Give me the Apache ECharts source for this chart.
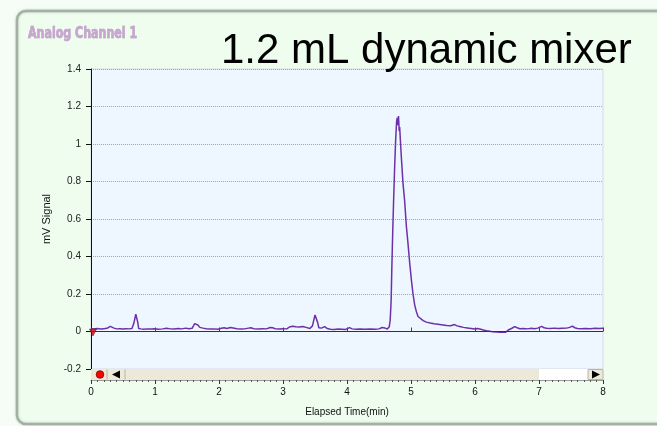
<!DOCTYPE html>
<html>
<head>
<meta charset="utf-8">
<title>Analog Channel 1</title>
<script src="https://cdn.jsdelivr.net/npm/echarts@6/dist/echarts.min.js"></script>
<style>
  html, body { margin: 0; padding: 0; background: #f6fdf6; }
  #chart { width: 657px; height: 426px; }
</style>
</head>
<body>
<div id="chart"></div>
<script>
// Detector trace: elapsed time (min) and signal (mV)
const elapsedMin = [
  0.00, 0.05, 0.10, 0.15, 0.20, 0.25, 0.30, 0.33, 0.36, 0.40,
  0.45, 0.50, 0.55, 0.60, 0.64, 0.67, 0.70, 0.715, 0.73, 0.745,
  0.78, 0.82, 0.88, 0.95, 1.00, 1.05, 1.12, 1.18, 1.24, 1.30,
  1.36, 1.42, 1.48, 1.53, 1.58, 1.62, 1.645, 1.67, 1.70, 1.75,
  1.80, 1.86, 1.92, 1.98, 2.04, 2.08, 2.12, 2.18, 2.22, 2.28,
  2.34, 2.40, 2.46, 2.50, 2.55, 2.62, 2.68, 2.74, 2.80, 2.84,
  2.88, 2.94, 3.00, 3.06, 3.10, 3.15, 3.20, 3.26, 3.31, 3.36,
  3.42, 3.46, 3.50, 3.52, 3.54, 3.56, 3.60, 3.65, 3.69, 3.74,
  3.80, 3.86, 3.92, 3.98, 4.04, 4.08, 4.14, 4.20, 4.28, 4.36,
  4.44, 4.50, 4.55, 4.59, 4.63, 4.66, 4.675, 4.69, 4.70, 4.714,
  4.73, 4.745, 4.76, 4.775, 4.785, 4.795, 4.805, 4.815, 4.823, 4.834,
  4.85, 4.875, 4.90, 4.928, 4.953, 4.98, 5.006, 5.03, 5.058, 5.084,
  5.11, 5.136, 5.19, 5.24, 5.30, 5.36, 5.42, 5.50, 5.56, 5.62,
  5.68, 5.72, 5.76, 5.82, 5.88, 5.94, 6.00, 6.04, 6.06, 6.09,
  6.13, 6.18, 6.23, 6.28, 6.34, 6.39, 6.44, 6.48, 6.52, 6.57,
  6.62, 6.66, 6.70, 6.76, 6.82, 6.88, 6.93, 6.98, 7.04, 7.08,
  7.12, 7.18, 7.24, 7.30, 7.36, 7.43, 7.48, 7.52, 7.56, 7.60,
  7.66, 7.72, 7.80, 7.88, 7.94, 8.00
];
const signalMv = [
  0.015, 0.014, 0.016, 0.013, 0.015, 0.017, 0.027, 0.028, 0.018, 0.014,
  0.015, 0.013, 0.015, 0.014, 0.016, 0.045, 0.092, 0.097, 0.050, 0.016,
  0.014, 0.012, 0.014, 0.013, 0.015, 0.012, 0.014, 0.017, 0.014, 0.013,
  0.016, 0.014, 0.018, 0.015, 0.017, 0.042, 0.050, 0.035, 0.022, 0.018,
  0.015, 0.013, 0.014, 0.012, 0.017, 0.020, 0.016, 0.021, 0.019, 0.015,
  0.013, 0.014, 0.018, 0.020, 0.014, 0.013, 0.015, 0.014, 0.021, 0.020,
  0.014, 0.013, 0.015, 0.014, 0.024, 0.028, 0.025, 0.024, 0.027, 0.022,
  0.016, 0.030, 0.088, 0.095, 0.050, 0.020, 0.018, 0.026, 0.016, 0.012,
  0.011, 0.013, 0.012, 0.011, 0.021, 0.014, 0.012, 0.013, 0.012, 0.013,
  0.012, 0.014, 0.021, 0.019, 0.013, 0.025, 0.060, 0.168, 0.330, 0.525,
  0.720, 0.880, 1.020, 1.120, 1.140, 1.100, 1.149, 1.070, 1.090, 1.020,
  0.925, 0.790, 0.700, 0.560, 0.470, 0.364, 0.275, 0.204, 0.141, 0.106,
  0.080, 0.070, 0.058, 0.050, 0.045, 0.041, 0.039, 0.035, 0.032, 0.031,
  0.037, 0.030, 0.027, 0.022, 0.019, 0.016, 0.013, 0.016, 0.021, 0.012,
  0.008, 0.004, 0.001, -0.002, -0.003, -0.004, -0.003, -0.004, 0.008, 0.016,
  0.026, 0.020, 0.015, 0.016, 0.014, 0.017, 0.015, 0.018, 0.027, 0.020,
  0.017, 0.016, 0.018, 0.016, 0.017, 0.018, 0.022, 0.029, 0.020, 0.016,
  0.015, 0.016, 0.015, 0.017, 0.016, 0.017
];
// Axis ranges and tick spacing
const timeRange = [0, 8];
const timeStep = 1;
const signalRange = [-0.2, 1.4];
const signalStep = 0.2;
// Shaded span of the time scroller (min)
const scrollVisible = [0, 7];
// Injection marker
const injectionPoint = [[0, 0]];

const trace = elapsedMin.map((t, i) => [t, signalMv[i]]);

const FONT = '"Liberation Sans", Arial, sans-serif';
const chart = echarts.init(document.getElementById('chart'), null, { renderer: 'canvas' });

chart.setOption({
  backgroundColor: '#f6fdf6',
  animation: false,
  title: [
    {
      text: '1.2 mL dynamic mixer', left: 216, top: 25,
      textStyle: { fontFamily: FONT, fontWeight: 'normal', fontSize: 42, color: '#000' }
    }
  ],
  graphic: [
    {
      type: 'rect', z: -100, silent: true,
      shape: { x: 17, y: 11, width: 660, height: 413, r: 9 },
      style: { fill: '#eefdee', stroke: '#a3b0a3', lineWidth: 2.5,
               shadowBlur: 3, shadowColor: 'rgba(0,0,0,0.18)' }
    },
    // channel caption, condensed
    {
      type: 'text', z: 10, silent: true, x: 28, y: 34.5, scaleX: 0.82,
      style: {
        text: 'Analog Channel 1',
        font: 'bold 15px "DejaVu Sans Condensed", "DejaVu Sans", sans-serif',
        fill: '#caa4d2', stroke: '#9c86a6', lineWidth: 0.5,
        verticalAlign: 'middle'
      }
    },
    // scroller buttons
    { type: 'line', z: 100, silent: true, shape: { x1: 107, y1: 369.5, x2: 107, y2: 379.5 }, style: { stroke: '#b9b5a5', lineWidth: 1 } },
    { type: 'line', z: 100, silent: true, shape: { x1: 125, y1: 369.5, x2: 125, y2: 379.5 }, style: { stroke: '#b9b5a5', lineWidth: 1 } },
    { type: 'circle', z: 101, silent: true, shape: { cx: 100, cy: 374.5, r: 3.8 }, style: { fill: '#ff0000', stroke: '#7a0000', lineWidth: 0.8 } },
    { type: 'polygon', z: 101, silent: true, shape: { points: [[112, 374.5], [120, 370.5], [120, 378.5]] }, style: { fill: '#000' } },
    { type: 'rect', z: 100, silent: true, shape: { x: 588, y: 369.5, width: 15, height: 10 }, style: { fill: '#ece9d8', stroke: '#b9b5a5', lineWidth: 1 } },
    { type: 'polygon', z: 101, silent: true, shape: { points: [[600, 374.5], [592, 370.5], [592, 378.5]] }, style: { fill: '#000' } }
  ],
  grid: [
    { left: 91, right: 54, top: 69, height: 300, show: true,
      backgroundColor: '#eef6ff', borderColor: '#d4dae4', borderWidth: 1 },
    { left: 91, right: 54, top: 369, height: 11, show: false }
  ],
  xAxis: [
    {
      gridIndex: 0, type: 'value', min: timeRange[0], max: timeRange[1], interval: timeStep,
      axisLine: { show: false },
      axisTick: { show: true, inside: true, length: 4, lineStyle: { color: '#444' } },
      axisLabel: { show: false },
      splitLine: { show: false }
    },
    {
      gridIndex: 1, type: 'value', min: timeRange[0], max: timeRange[1], interval: timeStep,
      position: 'bottom',
      axisLine: { show: true, onZero: false, lineStyle: { color: '#9a9a9a' } },
      axisTick: { show: true, length: 4, lineStyle: { color: '#333' } },
      minorTick: { show: true, splitNumber: 10, length: 2, lineStyle: { color: '#555' } },
      axisLabel: { fontSize: 10, color: '#111', margin: 7, fontFamily: FONT },
      splitLine: { show: false },
      name: 'Elapsed Time(min)', nameLocation: 'middle', nameGap: 27,
      nameTextStyle: { fontSize: 10, color: '#111', fontFamily: FONT }
    }
  ],
  yAxis: [
    {
      gridIndex: 0, type: 'value', min: signalRange[0], max: signalRange[1], interval: signalStep,
      axisLine: { show: true, onZero: false, lineStyle: { color: '#111' } },
      axisTick: { show: true, length: 5, lineStyle: { color: '#111' } },
      axisLabel: { fontSize: 10, color: '#222', margin: 10, fontFamily: FONT },
      splitLine: { show: true, lineStyle: { type: 'dotted', color: '#a6a6a6' } },
      name: 'mV Signal', nameLocation: 'middle', nameGap: 35, nameRotate: 90,
      nameTextStyle: { fontSize: 11, color: '#111', fontFamily: FONT }
    },
    {
      gridIndex: 1, type: 'value', min: 0, max: 1,
      axisLine: { show: true, onZero: false, lineStyle: { color: '#111' } },
      axisTick: { show: false }, axisLabel: { show: false }, splitLine: { show: false }
    }
  ],
  series: [
    {
      name: 'Analog Channel 1', type: 'line', xAxisIndex: 0, yAxisIndex: 0,
      data: trace, symbol: 'none', showSymbol: false, z: 3,
      lineStyle: { color: '#6c30a8', width: 1.5 },
      markLine: {
        silent: true, symbol: ['none', 'none'], label: { show: false },
        lineStyle: { color: '#333', width: 1, type: 'solid' },
        data: [{ yAxis: 0 }]
      }
    },
    {
      name: 'Injection', type: 'scatter', xAxisIndex: 0, yAxisIndex: 0,
      data: injectionPoint, symbol: 'triangle', symbolRotate: 180,
      symbolSize: 7, symbolOffset: [2, 1], z: 5,
      itemStyle: { color: '#e00000', borderColor: '#5a0000', borderWidth: 0.6 }
    },
    {
      name: 'Scroller', type: 'line', xAxisIndex: 1, yAxisIndex: 1,
      data: [[scrollVisible[0], 0.5]], symbol: 'none', showSymbol: false,
      lineStyle: { opacity: 0 },
      markArea: {
        silent: true,
        data: [
          [{ xAxis: scrollVisible[0], itemStyle: { color: '#ece9d8' } }, { xAxis: scrollVisible[1] }],
          [{ xAxis: scrollVisible[1], itemStyle: { color: '#ffffff' } }, { xAxis: timeRange[1] }]
        ]
      }
    }
  ]
});
</script>
</body>
</html>
